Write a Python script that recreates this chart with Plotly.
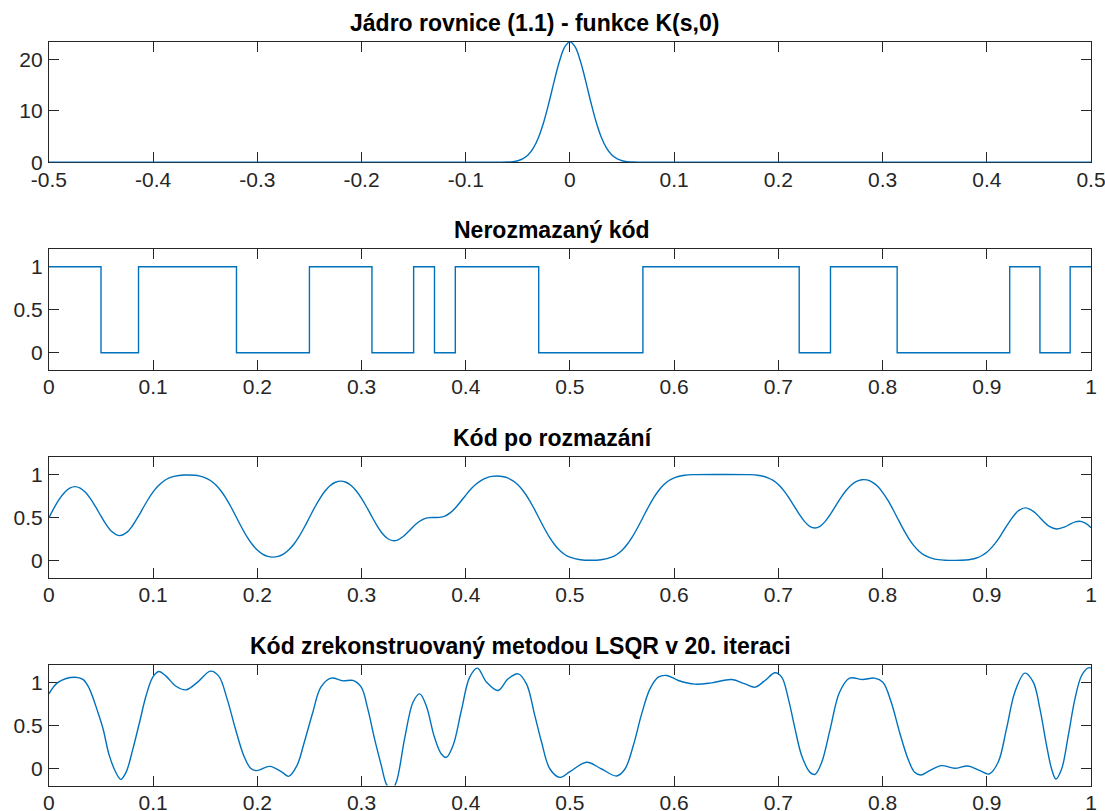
import plotly.graph_objects as go

# ---------------- data ----------------
kernel_s = [-0.5, -0.08, -0.07, -0.06, -0.055, -0.05, -0.045, -0.04, -0.035, -0.03, -0.025,
            -0.02, -0.015, -0.01, -0.005, 0.0, 0.005, 0.01, 0.015, 0.02, 0.025, 0.03,
            0.035, 0.04, 0.045, 0.05, 0.055, 0.06, 0.07, 0.08, 0.5]
kernel_val = [0.0, 0.0, 0.005, 0.046, 0.126, 0.31, 0.71, 1.47, 2.82, 4.94, 7.96,
              11.75, 15.91, 19.74, 22.48, 23.47, 22.48, 19.74, 15.91, 11.75, 7.96, 4.94,
              2.82, 1.47, 0.71, 0.31, 0.126, 0.046, 0.005, 0.0, 0.0]

code_edges = [0.0, 0.05, 0.086, 0.18, 0.25, 0.31, 0.35, 0.37, 0.39, 0.47, 0.57,
              0.72, 0.75, 0.814, 0.922, 0.951, 0.98, 1.0]
code_levels = [1, 0, 1, 0, 1, 0, 1, 0, 1, 0, 1, 0, 1, 0, 1, 0, 1, 1]

blur_x = [0.0, 0.005, 0.01, 0.015, 0.02, 0.025, 0.03, 0.035, 0.04, 0.045, 0.05, 0.055, 0.06, 0.068,
          0.075, 0.08, 0.086, 0.09, 0.095, 0.1, 0.105, 0.11, 0.115, 0.12, 0.13, 0.14, 0.145, 0.15,
          0.155, 0.16, 0.165, 0.17, 0.175, 0.18, 0.185, 0.19, 0.195, 0.2, 0.205, 0.21, 0.215, 0.22,
          0.225, 0.23, 0.235, 0.24, 0.245, 0.25, 0.255, 0.26, 0.265, 0.27, 0.275, 0.28, 0.285, 0.29,
          0.295, 0.3, 0.305, 0.31, 0.315, 0.32, 0.325, 0.33, 0.335, 0.34, 0.345, 0.35, 0.355, 0.36,
          0.365, 0.37, 0.375, 0.38, 0.385, 0.39, 0.395, 0.4, 0.405, 0.41, 0.415, 0.42, 0.425, 0.43,
          0.435, 0.44, 0.445, 0.45, 0.455, 0.46, 0.465, 0.47, 0.475, 0.48, 0.485, 0.49, 0.495, 0.5,
          0.51, 0.52, 0.53, 0.54, 0.545, 0.55, 0.555, 0.56, 0.565, 0.57, 0.575, 0.58, 0.585, 0.59,
          0.595, 0.6, 0.61, 0.62, 0.645, 0.67, 0.68, 0.69, 0.695, 0.7, 0.705, 0.71, 0.715, 0.72,
          0.725, 0.73, 0.735, 0.74, 0.745, 0.75, 0.755, 0.76, 0.765, 0.77, 0.775, 0.78, 0.785, 0.79,
          0.795, 0.8, 0.805, 0.81, 0.814, 0.82, 0.825, 0.83, 0.835, 0.84, 0.85, 0.86, 0.87, 0.88,
          0.885, 0.89, 0.895, 0.9, 0.905, 0.91, 0.915, 0.922, 0.93, 0.937, 0.945, 0.951, 0.955,
          0.96, 0.967, 0.975, 0.98, 0.985, 0.99, 0.995, 1.0]
blur_y = [0.498, 0.612, 0.713, 0.791, 0.841, 0.858, 0.841, 0.792, 0.716, 0.62, 0.515, 0.418, 0.341, 0.29,
          0.33, 0.401, 0.517, 0.602, 0.706, 0.797, 0.868, 0.921, 0.956, 0.977, 0.993, 0.99, 0.98, 0.961,
          0.929, 0.88, 0.811, 0.722, 0.616, 0.5, 0.384, 0.278, 0.189, 0.122, 0.075, 0.048, 0.04, 0.048,
          0.075, 0.122, 0.189, 0.278, 0.384, 0.5, 0.616, 0.72, 0.807, 0.871, 0.909, 0.922, 0.909, 0.871,
          0.808, 0.722, 0.619, 0.509, 0.403, 0.315, 0.256, 0.231, 0.241, 0.28, 0.337, 0.399, 0.451, 0.485,
          0.498, 0.5, 0.502, 0.517, 0.553, 0.611, 0.683, 0.759, 0.83, 0.889, 0.932, 0.961, 0.977, 0.981,
          0.976, 0.959, 0.928, 0.88, 0.811, 0.722, 0.616, 0.5, 0.384, 0.278, 0.189, 0.12, 0.071, 0.039,
          0.01, 0.003, 0.01, 0.039, 0.071, 0.12, 0.189, 0.278, 0.384, 0.5, 0.616, 0.722, 0.811, 0.88,
          0.929, 0.961, 0.991, 0.998, 1.0, 0.998, 0.991, 0.961, 0.93, 0.882, 0.815, 0.731, 0.636, 0.539,
          0.455, 0.398, 0.378, 0.398, 0.455, 0.539, 0.636, 0.731, 0.813, 0.877, 0.918, 0.938, 0.936, 0.911,
          0.865, 0.792, 0.701, 0.593, 0.5, 0.362, 0.259, 0.174, 0.108, 0.063, 0.017, 0.004, 0.002, 0.007,
          0.015, 0.03, 0.056, 0.097, 0.156, 0.232, 0.324, 0.456, 0.575, 0.612, 0.569, 0.498, 0.448,
          0.396, 0.366, 0.391, 0.424, 0.45, 0.455, 0.432, 0.382]

lsqr_x = [0.0, 0.009, 0.025, 0.033, 0.039, 0.047, 0.052, 0.058, 0.065, 0.069, 0.074, 0.0806, 0.087,
          0.0933, 0.0997, 0.1054, 0.1124, 0.122, 0.1315, 0.1427, 0.155, 0.163, 0.171, 0.179, 0.187,
          0.1936, 0.1994, 0.212, 0.224, 0.23, 0.238, 0.245, 0.253, 0.261, 0.2708, 0.282, 0.2917,
          0.2997, 0.306, 0.3125, 0.319, 0.3237, 0.3285, 0.3333, 0.3413, 0.3494, 0.3558, 0.362, 0.37,
          0.3766, 0.3814, 0.3878, 0.3958, 0.4038, 0.4112, 0.42, 0.431, 0.4407, 0.4503, 0.4583, 0.4663,
          0.4728, 0.4808, 0.4904, 0.5, 0.516, 0.5304, 0.5448, 0.5528, 0.5608, 0.5688, 0.5768, 0.5848,
          0.5928, 0.604, 0.62, 0.636, 0.6552, 0.668, 0.6776, 0.6872, 0.6968, 0.7032, 0.7096, 0.716,
          0.7224, 0.7304, 0.7352, 0.7416, 0.7496, 0.7587, 0.7683, 0.781, 0.7923, 0.8003, 0.8083,
          0.8163, 0.8244, 0.8308, 0.8365, 0.8452, 0.8564, 0.8692, 0.882, 0.8933, 0.9022, 0.9109,
          0.9189, 0.9269, 0.9365, 0.9446, 0.951, 0.9574, 0.9622, 0.9663, 0.9718, 0.9782, 0.9846,
          0.991, 0.9974, 1.0]
lsqr_y = [0.864, 1.0, 1.058, 1.03, 0.92, 0.65, 0.457, 0.147, -0.066, -0.128, -0.047, 0.225, 0.535,
          0.845, 1.058, 1.124, 1.07, 0.953, 0.911, 1.0, 1.128, 1.07, 0.806, 0.457, 0.147,
          0.0, -0.027, 0.023, -0.047, -0.093, 0.031, 0.3, 0.64, 0.942, 1.047, 1.016, 1.02,
          0.942, 0.69, 0.341, 0.031, -0.18, -0.26, -0.163, 0.341, 0.767, 0.864, 0.729, 0.36,
          0.167, 0.128, 0.264, 0.671, 1.058, 1.163, 1.0, 0.903, 1.039, 1.097, 0.98, 0.612,
          0.302, -0.008, -0.105, -0.039, 0.07, -0.008, -0.089, -0.008, 0.264, 0.632, 0.922, 1.058,
          1.078, 1.02, 0.977, 0.992, 1.031, 0.98, 0.942, 1.02, 1.109, 1.058, 0.806, 0.457,
          0.147, -0.047, -0.07, 0.07, 0.45, 0.884, 1.047, 1.031, 1.047, 1.0, 0.767,
          0.419, 0.109, -0.047, -0.078, -0.027, 0.031, 0.0, 0.027, -0.027, -0.066, 0.07,
          0.457, 0.884, 1.105, 1.0, 0.69, 0.264, -0.008, -0.124, -0.008, 0.38, 0.806,
          1.078, 1.167, 1.163]

titles = ["Jádro rovnice (1.1) - funkce K(s,0)", "Nerozmazaný kód",
          "Kód po rozmazání", "Kód zrekonstruovaný metodou LSQR v 20. iteraci"]

k_ticks = [-0.5, -0.4, -0.3, -0.2, -0.1, 0, 0.1, 0.2, 0.3, 0.4, 0.5]
k_ticklabels = ["-0.5", "-0.4", "-0.3", "-0.2", "-0.1", "0", "0.1", "0.2", "0.3", "0.4", "0.5"]
u_ticks = [0, 0.1, 0.2, 0.3, 0.4, 0.5, 0.6, 0.7, 0.8, 0.9, 1]
u_ticklabels = ["0", "0.1", "0.2", "0.3", "0.4", "0.5", "0.6", "0.7", "0.8", "0.9", "1"]
k_yticks = [0, 10, 20]
k_yticklabels = ["0", "10", "20"]
u_yticks = [0, 0.5, 1]
u_yticklabels = ["0", "0.5", "1"]

# ---------------- figure ----------------
W, H = 1105, 811
LINE = dict(color="#0072BD", width=1.4)
FONT = "Arial, 'Liberation Sans', Helvetica, sans-serif"

fig = go.Figure()
fig.add_trace(go.Scatter(x=kernel_s, y=kernel_val, mode="lines", line=dict(shape="spline", **LINE),
                         xaxis="x", yaxis="y", showlegend=False))
fig.add_trace(go.Scatter(x=code_edges, y=code_levels, mode="lines", line=dict(shape="hv", **LINE),
                         xaxis="x2", yaxis="y2", showlegend=False))
fig.add_trace(go.Scatter(x=blur_x, y=blur_y, mode="lines", line=dict(shape="spline", **LINE),
                         xaxis="x3", yaxis="y3", showlegend=False))
fig.add_trace(go.Scatter(x=lsqr_x, y=lsqr_y, mode="lines", line=dict(shape="spline", **LINE),
                         xaxis="x4", yaxis="y4", showlegend=False))

xdom = [48.9 / W, 1091.0 / W]
row_top0, row_step, row_h = 41.7, 207.75, 120.6
title_center_px = [534.5, 551.5, 552.5, 520.0]

common = dict(showline=True, linecolor="#262626", linewidth=1, mirror="allticks",
              ticks="inside", ticklen=10, tickwidth=1, tickcolor="#262626",
              showgrid=False, zeroline=False, layer="below traces", automargin=False,
              ticklabeloverflow="allow",
              tickfont=dict(family=FONT, size=21, color="#262626"))

layout = dict(width=W, height=H, margin=dict(l=0, r=0, t=0, b=0, autoexpand=False),
              paper_bgcolor="white", plot_bgcolor="white", showlegend=False)
annotations = []
for i in range(4):
    t = row_top0 + i * row_step
    b = t + row_h
    n = "" if i == 0 else str(i + 1)
    ydom = [1 - b / H, 1 - t / H]
    if i == 0:
        xr, xt, xtl = [-0.5, 0.5], k_ticks, k_ticklabels
        yr, yt, ytl = [0, 23.5], k_yticks, k_yticklabels
    else:
        xr, xt, xtl = [0, 1], u_ticks, u_ticklabels
        yr, yt, ytl = [-0.2, 1.2], u_yticks, u_yticklabels
    layout["xaxis" + n] = dict(common, domain=xdom, range=xr, tickvals=xt, ticktext=xtl,
                               anchor="y" + n, ticklabelstandoff=-2)
    layout["yaxis" + n] = dict(common, domain=ydom, range=yr, tickvals=yt, ticktext=ytl,
                               anchor="x" + n, ticklabelstandoff=1)
    annotations.append(dict(text="<b>" + titles[i] + "</b>", xref="paper", yref="paper",
                            x=title_center_px[i] / W, y=ydom[1], xanchor="center",
                            yanchor="bottom", yshift=4, showarrow=False,
                            font=dict(family=FONT, size=23, color="black")))
layout["annotations"] = annotations
fig.update_layout(**layout)
fig.write_html("out.html")
